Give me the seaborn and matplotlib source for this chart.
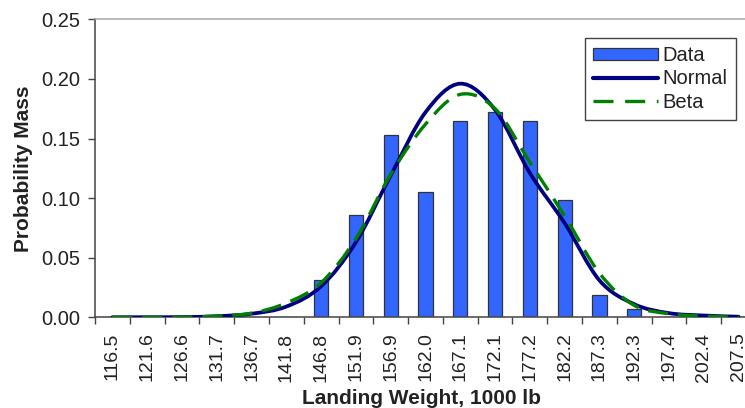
import matplotlib
matplotlib.use("Agg")
import matplotlib.pyplot as plt
import seaborn as sns
import numpy as np
from matplotlib.ticker import FixedLocator, FormatStrFormatter
from matplotlib.path import Path
from matplotlib.patches import PathPatch, Patch
from matplotlib.lines import Line2D

# ---- data ----
weights = ["116.5", "121.6", "126.6", "131.7", "136.7", "141.8", "146.8", "151.9",
           "156.9", "162.0", "167.1", "172.1", "177.2", "182.2", "187.3", "192.3",
           "197.4", "202.4", "207.5"]
data_mass = [0.0, 0.0, 0.0, 0.0, 0.0, 0.0, 0.031, 0.086, 0.153, 0.105, 0.165,
             0.172, 0.165, 0.098, 0.019, 0.007, 0.0, 0.0, 0.0]
normal_mass = [0.0000, 0.0001, 0.0002, 0.0009, 0.0030, 0.0090, 0.0260, 0.0630,
               0.1190, 0.1720, 0.1960, 0.1740, 0.1210, 0.0790, 0.0310, 0.0110,
               0.0035, 0.0015, 0.0005]
beta_mass = [0.0000, 0.0000, 0.0001, 0.0010, 0.0035, 0.0120, 0.0290, 0.0660,
             0.1200, 0.1620, 0.1870, 0.1750, 0.1300, 0.0850, 0.0370, 0.0100,
             0.0030, 0.0010, 0.0002]
series_names = ["Data", "Normal", "Beta"]
y_ticks = [0.00, 0.05, 0.10, 0.15, 0.20, 0.25]

sns.set_theme(style="white")
plt.rcParams["font.family"] = ["Liberation Sans", "DejaVu Sans"]

W, H = 745, 408
fig = plt.figure(figsize=(W / 100, H / 100), dpi=100)
x0, x1 = 95, 756
y_top, y_bot = 19.3, 317.3
ax = fig.add_axes([x0 / W, (H - y_bot) / H, (x1 - x0) / W, (y_bot - y_top) / H])

pos = list(range(len(weights)))

BAR_C, NORM_C, BETA_C = "#3366FF", "#000080", "#008000"

sns.barplot(x=weights, y=data_mass, order=weights, ax=ax, color=BAR_C,
            saturation=1, width=0.41, edgecolor="#333333", linewidth=0.9)


def smooth_path(xs, ys):
    """Excel-style smoothed line: cubic Bezier segments through the points."""
    pts = np.column_stack([xs, ys]).astype(float)
    n = len(pts)
    verts = [pts[0]]
    codes = [Path.MOVETO]
    for i in range(n - 1):
        p_prev = pts[i - 1] if i > 0 else pts[i]
        p0, p1 = pts[i], pts[i + 1]
        p_next = pts[i + 2] if i + 2 < n else pts[i + 1]
        c1 = p0 + (p1 - p_prev) / 6.0
        c2 = p1 - (p_next - p0) / 6.0
        verts += [c1, c2, p1]
        codes += [Path.CURVE4] * 3
    return Path(verts, codes)


ax.add_patch(PathPatch(smooth_path(pos, normal_mass), transform=ax.transData,
                       facecolor="none", edgecolor=NORM_C, linewidth=2.7,
                       capstyle="round", joinstyle="round", zorder=3))
ax.add_patch(PathPatch(smooth_path(pos, beta_mass), transform=ax.transData,
                       facecolor="none", edgecolor=BETA_C, linewidth=2.4,
                       linestyle=(0, (6, 3)), capstyle="butt", zorder=4))

ax.set_xlim(-0.5, len(weights) - 0.5)
ax.set_ylim(0, 0.25)

# x ticks: labels at category centres, tick marks between categories
ax.xaxis.set_major_locator(FixedLocator(pos))
ax.set_xticklabels(weights, rotation=90, fontsize=14)
ax.xaxis.set_minor_locator(FixedLocator([p - 0.5 for p in pos]))
ax.tick_params(axis="x", which="major", length=0, pad=11, colors="#222222")
ax.tick_params(axis="x", which="minor", length=4.8, width=1, color="#444444",
               bottom=True)

ax.yaxis.set_major_locator(FixedLocator(y_ticks))
ax.yaxis.set_major_formatter(FormatStrFormatter("%.2f"))
ax.tick_params(axis="y", which="major", length=4.8, width=1, color="#444444",
               labelsize=14.5, pad=5.5, left=True, labelcolor="#222222")

ax.set_xlabel("Landing Weight, 1000 lb", fontsize=15, fontweight="bold",
              color="#222222")
ax.set_ylabel("Probability Mass", fontsize=15, fontweight="bold",
              color="#222222")
ax.xaxis.set_label_coords((421 - x0) / (x1 - x0), -(399 - y_bot) / (y_bot - y_top))
ax.yaxis.set_label_coords(-(95 - 23) / (x1 - x0), 0.5)
ax.xaxis.label.set_va("center")
ax.yaxis.label.set_va("center")

for side in ["left", "bottom"]:
    ax.spines[side].set_color("#444444")
    ax.spines[side].set_linewidth(1.1)
ax.spines["top"].set_color("#a8a8a8")
ax.spines["top"].set_linewidth(1.1)
ax.spines["right"].set_visible(False)
ax.grid(False)

handles = [Patch(facecolor=BAR_C, edgecolor="#333333", linewidth=0.9),
           Line2D([], [], color=NORM_C, linewidth=3.0, solid_capstyle="round"),
           Line2D([], [], color=BETA_C, linewidth=2.4, dashes=(6, 3.5))]
leg = ax.legend(handles, series_names, loc="upper left",
                bbox_to_anchor=((585 - x0) / (x1 - x0),
                                1 - (38 - y_top) / (y_bot - y_top)),
                frameon=True, fancybox=False, shadow=False, fontsize=14.5,
                handlelength=3.2, handleheight=0.55, handletextpad=0.25,
                labelspacing=0.22, borderpad=0.4, borderaxespad=0,
                framealpha=1)
leg.get_frame().set_edgecolor("#444444")
leg.get_frame().set_linewidth(1.0)
for t in leg.get_texts():
    t.set_color("#222222")

fig.savefig("out.png", dpi=100)
